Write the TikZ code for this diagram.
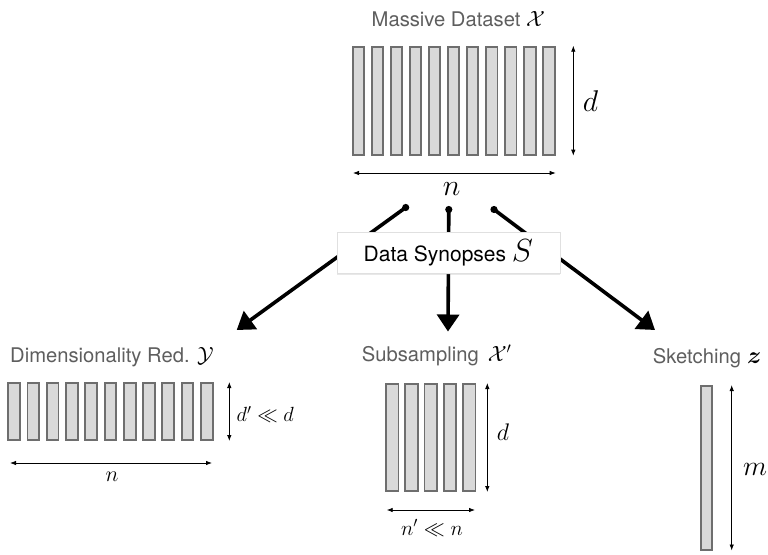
\RequirePackage{fix-cm}
\documentclass[tikz,border=0pt]{standalone}
\usepackage{amsmath,amssymb}
\usepackage{fontspec}
\newfontfamily\labelfont{TeX Gyre Heros}
\usetikzlibrary{arrows.meta,shadows}
\definecolor{labelgrey}{HTML}{5E5E5E}
\definecolor{barfill}{HTML}{D9D9D9}
\definecolor{barline}{HTML}{6E6E6E}
\tikzset{
  bar/.style={draw=barline, fill=barfill, line width=1.9pt},
  dim/.style={line width=0.8pt, {Latex[length=6pt,width=4.5pt]}-{Latex[length=6pt,width=4.5pt]}},
  flow/.style={line width=3.6pt, line cap=round, -{Triangle[length=17pt,width=22pt]}},
  flowdot/.style={fill=black},
  caption/.style={inner sep=0pt, anchor=base west, text=labelgrey,
    font=\labelfont\fontsize{20.2}{23}\selectfont},
  mathlabel/.style={inner sep=0pt, anchor=base},
  synbox/.style={draw=black!12, fill=white, minimum width=223pt, minimum height=41.6pt,
    inner sep=0pt, drop shadow={opacity=0.18, shadow xshift=0.4pt, shadow yshift=-1.2pt}},
}
\begin{document}
\begin{tikzpicture}[x=1pt, y=-1pt]
\useasboundingbox (0,0) rectangle (768,554);

% ---- full data set: 11 columns of height d ----
\node[caption] (title) at (371.5,26) {Massive Dataset \textcolor{black}{\fontsize{22}{24}\selectfont$\mathcal{X}$}};
\foreach \i in {0,...,10}
  \draw[bar] ({351.7+19.06*\i+0.95},46.6) rectangle ++(11.4,108.2);
\coordinate (tdtop) at (573.3,45.7);
\coordinate (tdbot) at (573.3,155.7);
\draw[dim] (tdtop) -- (tdbot);
\node[mathlabel] (tdl) at (590.5,111.7) {\fontsize{30}{32}\selectfont$d$};
\coordinate (tnl) at (353,173);
\coordinate (tnr) at (555.7,173);
\draw[dim] (tnl) -- (tnr);
\node[mathlabel] (tnlab) at (451.7,195) {\fontsize{30}{32}\selectfont$n$};

% ---- the three synopsis arrows ----
\coordinate (s1) at (405.7,207.5);
\coordinate (s2) at (448.8,209.5);
\coordinate (s3) at (494,209.5);
\coordinate (e1) at (236.7,330);
\coordinate (e2) at (448,331.5);
\coordinate (e3) at (655,330);
\draw[flow] (s1) -- (e1);
\draw[flow] (s2) -- (e2);
\draw[flow] (s3) -- (e3);
\foreach \s in {s1,s2,s3}
  \fill[flowdot] (\s) circle (3.6pt);
\node[synbox] (syn) at (448.4,252.5) {\fontsize{21}{24}\selectfont\labelfont Data Synopses \fontsize{32}{34}\selectfont$S$};

% ---- dimensionality reduction ----
\node[caption] (dimred) at (10,362.3) {Dimensionality Red. \textcolor{black}{\fontsize{22}{24}\selectfont$\mathcal{Y}$}};
\foreach \i in {0,...,10}
  \draw[bar] ({7.3+19.27*\i+0.95},383.2) rectangle ++(11.7,56.9);
\coordinate (ldtop) at (229.3,382);
\coordinate (ldbot) at (229.3,441);
\draw[dim] (ldtop) -- (ldbot);
\node[inner sep=0pt, anchor=base west] (ldl) at (236.5,421.7) {\fontsize{20.5}{22}\selectfont$d' \ll d$};
\coordinate (lnl) at (10,463);
\coordinate (lnr) at (212,463);
\draw[dim] (lnl) -- (lnr);
\node[mathlabel] (lnlab) at (112,481) {\fontsize{22}{24}\selectfont$n$};

% ---- subsampling ----
\node[caption] (subs) at (361.7,361.7) {Subsampling\hspace{9pt}\textcolor{black}{\fontsize{22}{24}\selectfont$\mathcal{X}'$}};
\foreach \i in {0,...,4}
  \draw[bar] ({385+19.25*\i+0.95},384.2) rectangle ++(12.5,107.2);
\coordinate (mdtop) at (487.3,383);
\coordinate (mdbot) at (487.3,492);
\draw[dim] (mdtop) -- (mdbot);
\node[mathlabel] (mdl) at (503,440) {\fontsize{24}{26}\selectfont$d$};
\coordinate (mnl) at (386.7,510);
\coordinate (mnr) at (475,510);
\draw[dim] (mnl) -- (mnr);
\node[mathlabel] (mnlab) at (432,535) {\fontsize{21}{23}\selectfont$n' \ll n$};

% ---- sketching ----
\node[caption] (sk) at (652.7,363.3) {Sketching\hspace{6pt}\textcolor{black}{\fontsize{24}{26}\selectfont$\boldsymbol{z}$}};
\draw[bar] (700.9,385.9) rectangle (712.4,549.8);
\coordinate (rdtop) at (731.7,385);
\coordinate (rdbot) at (731.7,550.5);
\draw[dim] (rdtop) -- (rdbot);
\node[mathlabel] (rml) at (755,475) {\fontsize{28}{30}\selectfont$m$};
\end{tikzpicture}
\end{document}
